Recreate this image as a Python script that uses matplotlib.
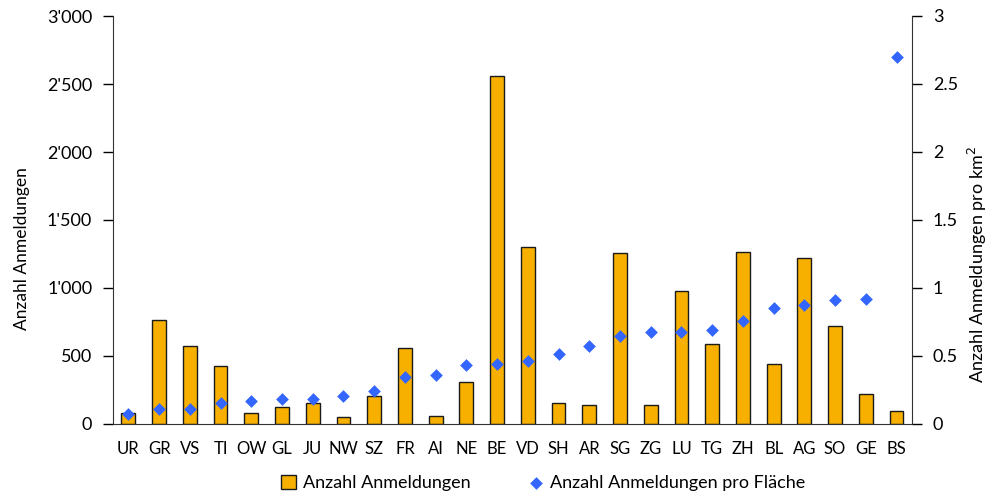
import matplotlib
matplotlib.use("Agg")
import matplotlib.pyplot as plt
import matplotlib.ticker as mticker
import numpy as np

plt.rcParams["font.family"] = ["Lato", "DejaVu Sans"]

# Anmeldungen je Kanton (absolut und pro km2)
kantone = ["UR", "GR", "VS", "TI", "OW", "GL", "JU", "NW", "SZ", "FR", "AI", "NE", "BE",
           "VD", "SH", "AR", "SG", "ZG", "LU", "TG", "ZH", "BL", "AG", "SO", "GE", "BS"]
anmeldungen = [83, 762, 573, 426, 83, 122, 152, 54, 208, 559, 61, 309, 2559,
               1301, 152, 137, 1257, 137, 978, 588, 1265, 441, 1218, 720, 220, 98]
pro_flaeche = [0.076, 0.108, 0.108, 0.154, 0.17, 0.186, 0.186, 0.208, 0.24, 0.348, 0.363, 0.434, 0.444,
               0.466, 0.512, 0.574, 0.645, 0.68, 0.68, 0.69, 0.76, 0.853, 0.877, 0.914, 0.92, 2.70]

ORANGE = "#F8B000"
BLUE = "#3366FF"

fig = plt.figure(figsize=(9.88, 5.0), dpi=100)
ax = fig.add_axes([0.1144, 0.152, 0.8086, 0.816])
x = np.arange(len(kantone))

b = ax.bar(x, anmeldungen, width=0.45, color=ORANGE, edgecolor="#1a1a1a", linewidth=1.0,
           label="Anzahl Anmeldungen", zorder=2)
ax.set_xlim(-0.5, len(kantone) - 0.5)
ax.set_ylim(0, 3000)
ax.set_yticks(np.arange(0, 3001, 500))
ax.yaxis.set_major_formatter(mticker.FuncFormatter(lambda v, p: f"{int(v):,}".replace(",", "'")))
ax.set_xticks(x)
ax.set_xticklabels(kantone, fontsize=12)
ax.tick_params(axis="x", length=0, pad=12)
ax.tick_params(axis="y", labelsize=13, length=7, width=1, direction="out", pad=8)
ax.set_ylabel("Anzahl Anmeldungen", fontsize=12.5)
ax.yaxis.set_label_coords(-0.104, 0.43)
ax.spines["top"].set_visible(False)
ax.spines["right"].set_visible(False)
for s in ("left", "bottom"):
    ax.spines[s].set_color("#333333")

ax2 = ax.twinx()
d = ax2.scatter(x, pro_flaeche, marker="D", s=42, color=BLUE, linewidths=0,
                label="Anzahl Anmeldungen pro Fläche", zorder=3)
ax2.set_ylim(0, 3)
ax2.set_yticks(np.arange(0, 3.01, 0.5))
ax2.yaxis.set_major_formatter(mticker.FuncFormatter(lambda v, p: f"{v:g}"))
ax2.tick_params(axis="y", labelsize=13, length=7, width=1, direction="out", pad=8)
ax2.set_ylabel("Anzahl Anmeldungen pro km$^2$", fontsize=13, rotation=90)
ax2.yaxis.set_label_coords(1.068, 0.39)
ax2.spines["top"].set_visible(False)
ax2.spines["left"].set_visible(False)
ax2.spines["bottom"].set_visible(False)
ax2.spines["right"].set_color("#333333")

fig.legend(handles=[b, d], loc="lower center", bbox_to_anchor=(0.55, -0.015), ncol=2,
           frameon=False, fontsize=13, handlelength=0.8, handleheight=0.8,
           columnspacing=3.2, handletextpad=0.4)

fig.savefig("out.png", dpi=100)
